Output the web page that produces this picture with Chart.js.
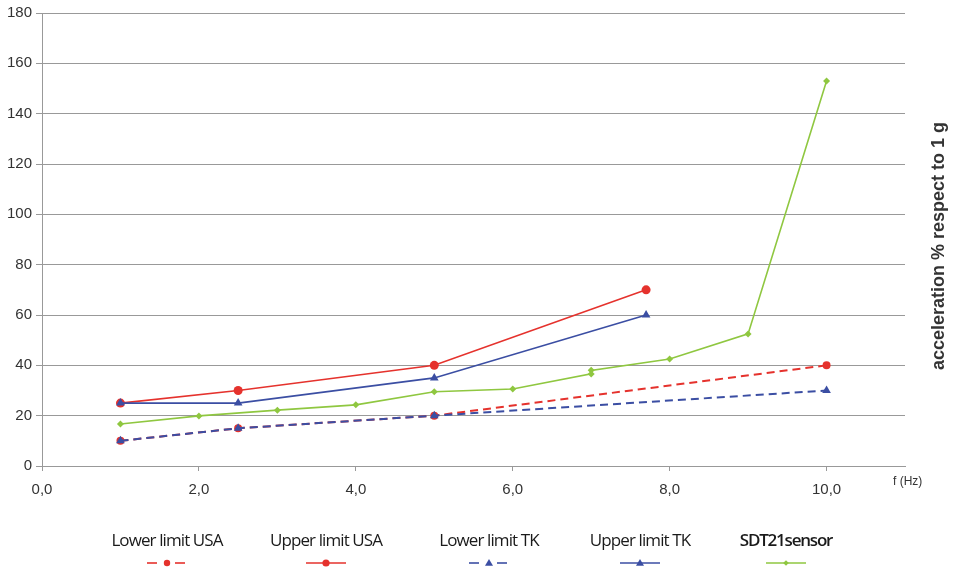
<!DOCTYPE html>
<html>
<head>
<meta charset="utf-8">
<script src="https://cdn.jsdelivr.net/npm/chart.js@4/dist/chart.umd.min.js"></script>
<style>
html,body{margin:0;padding:0;background:#fff;}
#wrap{width:956px;height:567px;position:relative;}
</style>
</head>
<body>
<div id="wrap"><canvas id="c" width="956" height="567"></canvas></div>
<script>
// ---- data ----
const xLimits = [1, 2.5, 5, 7.7];
const xLowerLimits = [1, 2.5, 5, 10];
const lowerUSA = [10, 15, 20, 40];
const upperUSA = [25, 30, 40, 70];
const lowerTK = [10, 15, 20, 30];
const upperTK = [25, 25, 35, 60];
const xSensor = [1, 2, 3, 4, 5, 6, 7, 7, 8, 9, 10];
const sensor = [16.7, 19.9, 22.2, 24.3, 29.5, 30.6, 36.6, 38.0, 42.5, 52.5, 153];
const seriesNames = ['Lower limit USA', 'Upper limit USA', 'Lower limit TK', 'Upper limit TK', 'SDT21sensor'];
const xTickValues = [0, 2, 4, 6, 8, 10];
const yTickValues = [0, 20, 40, 60, 80, 100, 120, 140, 160, 180];
const yTitle = 'acceleration % respect to 1 g';
const xTitle = 'f (Hz)';

const RED = '#e5322d', BLUE = '#3b4ea3', GREEN = '#8fc740';
const pts = (xs, ys) => xs.map((x, i) => ({x: x, y: ys[i]}));

const datasets = [
  {label: seriesNames[0], data: pts(xLowerLimits, lowerUSA), borderColor: RED, backgroundColor: RED, borderDash: [8, 5], pointStyle: 'circle', pointRadius: 4, borderWidth: 2, order: 3},
  {label: seriesNames[1], data: pts(xLimits, upperUSA), borderColor: RED, backgroundColor: RED, pointStyle: 'circle', pointRadius: 4.5, borderWidth: 1.6, order: 4},
  {label: seriesNames[2], data: pts(xLowerLimits, lowerTK), borderColor: BLUE, backgroundColor: BLUE, borderDash: [8, 5], pointStyle: 'triangle', pointRadius: 5, borderWidth: 2, order: 1},
  {label: seriesNames[3], data: pts(xLimits, upperTK), borderColor: BLUE, backgroundColor: BLUE, pointStyle: 'triangle', pointRadius: 5, borderWidth: 1.6, order: 2},
  {label: seriesNames[4], data: pts(xSensor, sensor), borderColor: GREEN, backgroundColor: GREEN, pointStyle: 'rectRot', pointRadius: 3.5, borderWidth: 1.6, order: 5}
];
datasets.forEach(d => { d.fill = false; d.tension = 0; d.pointBorderWidth = 0; d.showLine = true; });

const extras = {
  id: 'extras',
  afterDraw(chart) {
    const ctx = chart.ctx;
    const a = chart.chartArea;
    ctx.save();
    // right title
    ctx.fillStyle = '#333';
    ctx.font = 'bold 18px "Liberation Sans", Arial, sans-serif';
    ctx.textAlign = 'center';
    ctx.textBaseline = 'middle';
    ctx.translate(939, 246);
    ctx.rotate(-Math.PI / 2);
    ctx.fillText(yTitle, 0, 0);
    ctx.restore();
    // x title
    ctx.save();
    ctx.fillStyle = '#333';
    ctx.font = '12px "Liberation Sans", Arial, sans-serif';
    ctx.textAlign = 'left';
    ctx.textBaseline = 'middle';
    ctx.fillText(xTitle, 893, 482);
    ctx.restore();
    // legend
    const centers = [167, 326, 489, 640, 786];
    chart.data.datasets.forEach((d, i) => {
      const cx = centers[i];
      ctx.save();
      ctx.fillStyle = '#1a1a1a';
      ctx.font = (i === 4 ? '600 ' : '') + '17px "Open Sans", sans-serif';
      try { ctx.letterSpacing = i === 4 ? '-1.2px' : '-0.9px'; } catch (e) {}
      ctx.textAlign = 'center';
      ctx.textBaseline = 'middle';
      ctx.fillText(d.label, cx, 541);
      ctx.restore();
      ctx.save();
      ctx.strokeStyle = d.borderColor;
      ctx.lineWidth = 1.6;
      const y = 563;
      if (d.borderDash) {
        ctx.beginPath(); ctx.moveTo(cx - 20, y); ctx.lineTo(cx - 10, y); ctx.stroke();
        ctx.beginPath(); ctx.moveTo(cx + 8, y); ctx.lineTo(cx + 18, y); ctx.stroke();
      } else {
        ctx.beginPath(); ctx.moveTo(cx - 20, y); ctx.lineTo(cx + 20, y); ctx.stroke();
      }
      ctx.fillStyle = d.backgroundColor;
      ctx.beginPath();
      const r = d.pointRadius * 0.8;
      if (d.pointStyle === 'circle') { ctx.arc(cx, y, r, 0, Math.PI * 2); }
      else if (d.pointStyle === 'triangle') { ctx.moveTo(cx, y - r); ctx.lineTo(cx + r, y + r * 0.7); ctx.lineTo(cx - r, y + r * 0.7); ctx.closePath(); }
      else { ctx.moveTo(cx, y - r); ctx.lineTo(cx + r, y); ctx.lineTo(cx, y + r); ctx.lineTo(cx - r, y); ctx.closePath(); }
      ctx.fill();
      ctx.restore();
    });
  }
};

new Chart(document.getElementById('c'), {
  type: 'line',
  data: {datasets: datasets},
  options: {
    responsive: false,
    animation: false,
    layout: {padding: {left: 0, right: 51, top: 13, bottom: 61}},
    plugins: {legend: {display: false}, tooltip: {enabled: false}},
    scales: {
      x: {
        type: 'linear', min: 0, max: 11,
        afterBuildTicks: s => { s.ticks = xTickValues.map(v => ({value: v})); },
        afterFit: s => { s.height = 40; },
        grid: {display: true, drawOnChartArea: false, drawTicks: true, tickLength: 5, color: '#999'},
        border: {display: true, color: '#999', width: 1},
        ticks: {
          color: '#333', font: {family: '"Liberation Sans", Arial, sans-serif', size: 15}, padding: 10,
          callback: v => v.toFixed(1).replace('.', ',')
        }
      },
      y: {
        type: 'linear', min: 0, max: 180,
        afterBuildTicks: s => { s.ticks = yTickValues.map(v => ({value: v})); },
        afterFit: s => { s.width = 42; },
        grid: {color: '#999', lineWidth: 1, tickLength: 6, drawTicks: true},
        border: {display: true, color: '#999', width: 1},
        ticks: {color: '#333', font: {family: '"Liberation Sans", Arial, sans-serif', size: 15}, padding: 4}
      }
    }
  },
  plugins: [extras]
});
</script>
</body>
</html>
